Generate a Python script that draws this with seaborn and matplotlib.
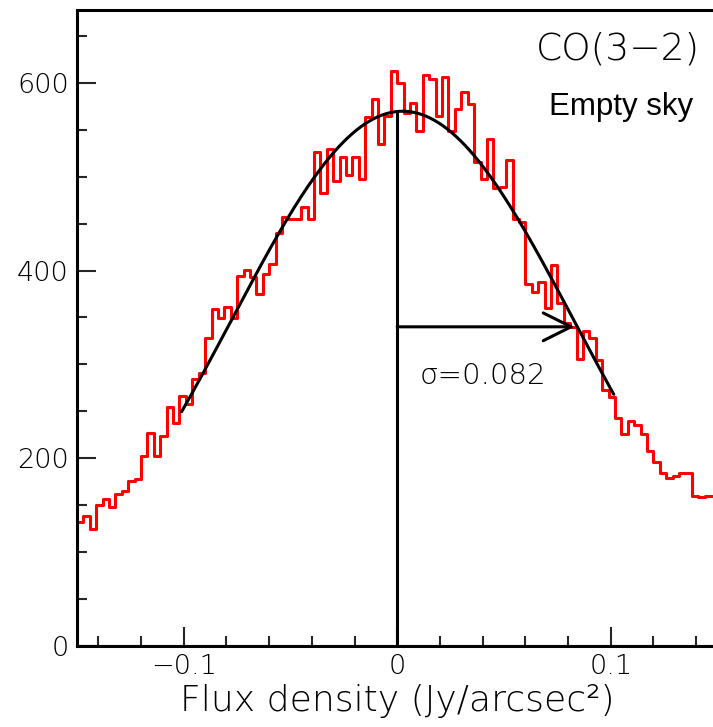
import numpy as np
import pandas as pd
import matplotlib
matplotlib.use("Agg")
import matplotlib.pyplot as plt
import seaborn as sns

# ---- data ----
bin_lo, bin_hi, n_bins = -0.15, 0.15, 100
counts = [132, 138, 124, 150, 156, 148, 162, 165, 175, 178,
          202, 227, 202, 223, 254, 237, 266, 258, 284, 291,
          328, 359, 349, 361, 349, 394, 401, 393, 375, 396,
          407, 440, 457, 455, 455, 468, 455, 527, 483, 530,
          496, 521, 502, 521, 498, 564, 583, 535, 565, 613,
          600, 568, 579, 549, 609, 604, 565, 607, 549, 572,
          591, 578, 516, 498, 540, 488, 489, 518, 455, 452,
          386, 377, 388, 360, 406, 365, 344, 340, 306, 336,
          328, 305, 273, 265, 243, 226, 240, 235, 226, 208,
          196, 184, 179, 181, 184, 184, 160, 158, 160, 160]

fit_amp = 570.0
fit_mu = 0.0025
fit_sigma = 0.0805
fit_range = (-0.101, 0.1014)
sigma_label = 0.083
arrow_y = 340

x_ticks = [-0.1, 0.0, 0.1]
x_ticklabels = ["\u22120.1", "0", "0.1"]
y_ticks = [0, 200, 400, 600]
y_ticklabels = ["0", "200", "400", "600"]

# ---- figure ----
sns.set_style("ticks")
plt.rcParams["font.family"] = ["DejaVu Sans"]
LIGHT = 200

W, H, DPI = 713, 727, 100
fig = plt.figure(figsize=(W / DPI, H / DPI), dpi=DPI)
left = 77 / W
right = 717.5 / W
bottom = (H - 645.5) / H
top = (H - 10) / H
ax = fig.add_axes([left, bottom, right - left, top - bottom])

binwidth = (bin_hi - bin_lo) / n_bins
centers = bin_lo + binwidth * (np.arange(n_bins) + 0.5)
df = pd.DataFrame({"flux": centers, "count": np.asarray(counts, dtype=float)})

n_before = len(ax.collections)
sns.histplot(data=df, x="flux", weights="count", binwidth=binwidth,
             binrange=(bin_lo, bin_hi),
             element="step", fill=True, color="#ff0000",
             alpha=1, linewidth=2.2, ax=ax)
for coll in ax.collections[n_before:]:
    coll.set_facecolor("none")
    coll.set_edgecolor("#ff0000")
    coll.set_linewidth(2.2)

xf = np.linspace(fit_range[0], fit_range[1], 300)
fit_df = pd.DataFrame({"x": xf,
                       "y": fit_amp * np.exp(-0.5 * ((xf - fit_mu) / fit_sigma) ** 2)})
sns.lineplot(data=fit_df, x="x", y="y", color="black", linewidth=2.2, ax=ax)

ax.vlines(0, 0, fit_amp, color="black", linewidth=2.2)
ax.annotate("", xy=(sigma_label, arrow_y), xytext=(0, arrow_y),
            arrowprops=dict(arrowstyle="->,head_length=1.0,head_width=0.5",
                            color="black", lw=2.2, shrinkA=0, shrinkB=0,
                            mutation_scale=20))

ax.text(0.0103, 287, "\u03c3=0.082", fontsize=21, ha="left", va="center",
        color="black", fontweight=LIGHT)
ax.text(0.1418, 636, "CO(3\u22122)", fontsize=27, ha="right", va="center",
        color="black", fontweight=LIGHT)
ax.text(0.1385, 574, "Empty sky", fontsize=22.5, ha="right", va="center",
        family=["Liberation Sans", "DejaVu Sans"], color="black")

ax.set_xlim(bin_lo, bin_hi)
ax.set_ylim(0, 678)
ax.set_xticks(x_ticks)
ax.set_xticklabels(x_ticklabels, fontweight=LIGHT)
ax.set_yticks(y_ticks)
ax.set_yticklabels(y_ticklabels, fontweight=LIGHT)
ax.xaxis.set_minor_locator(matplotlib.ticker.MultipleLocator(0.02))
ax.yaxis.set_minor_locator(matplotlib.ticker.MultipleLocator(50))
ax.tick_params(axis="both", which="major", direction="in", length=14, width=1.5,
               labelsize=19.5, pad=6, labelcolor="black")
ax.tick_params(axis="both", which="minor", direction="in", length=7, width=1.5)
ax.set_xlabel("Flux density (Jy/arcsec\u00b2)", fontsize=26, labelpad=4,
              color="black", fontweight=LIGHT)
ax.set_ylabel("")
for s in ["left", "bottom", "top", "right"]:
    ax.spines[s].set_visible(True)
    ax.spines[s].set_linewidth(2.2)
    ax.spines[s].set_color("black")

fig.savefig("out.png", dpi=DPI)
